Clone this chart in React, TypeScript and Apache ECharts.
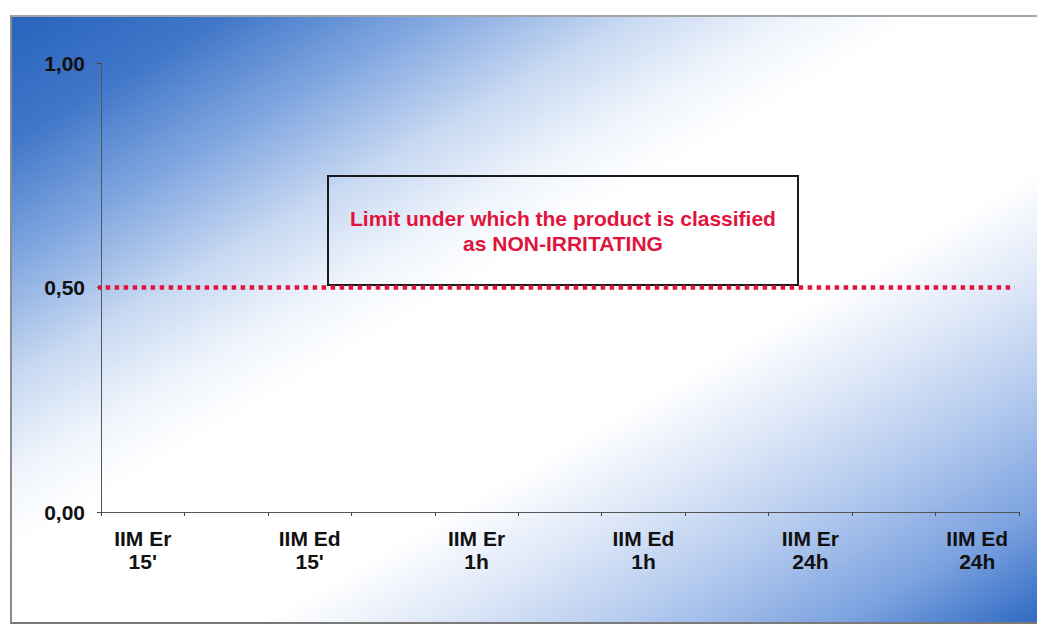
import React, { useEffect, useRef } from "react";
import * as echarts from "echarts";

const categories: string[] = [
  "IIM Er\n15'", "", "IIM Ed\n15'", "", "IIM Er\n1h", "", "IIM Ed\n1h", "", "IIM Er\n24h", "", "IIM Ed\n24h",
];
const scores: number[] = [0, 0, 0, 0, 0, 0, 0, 0, 0, 0, 0];
const yTicks: number[] = [0, 0.5, 1];
const limitValue = 0.5;
const limitSpan: number[] = [-0.16, 10.95];
const noteLines: string[] = ["Limit under which the product is classified", "as NON-IRRITATING"];

const FONT = "Arial, 'Liberation Sans', sans-serif";

export default function App() {
  const ref = useRef<HTMLDivElement>(null);

  useEffect(() => {
    if (!ref.current) return;
    const chart = echarts.init(ref.current, undefined, { renderer: "svg" });
    chart.setOption({
      animation: false,
      backgroundColor: "transparent",
      grid: { left: 101, right: 18, top: 63, bottom: 112, containLabel: false },
      xAxis: [
        {
          type: "category",
          data: categories,
          boundaryGap: true,
          axisLine: { lineStyle: { color: "#555", width: 1 } },
          axisTick: { show: true, length: 4, lineStyle: { color: "#444" } },
          axisLabel: {
            interval: 0,
            margin: 15,
            lineHeight: 23,
            fontSize: 21,
            fontWeight: "bold",
            fontFamily: FONT,
            color: "#111",
            align: "center",
          },
          splitLine: { show: false },
        },
        {
          type: "value",
          min: 0,
          max: categories.length,
          show: false,
        },
      ],
      yAxis: {
        type: "value",
        min: yTicks[0],
        max: yTicks[yTicks.length - 1],
        interval: yTicks[1] - yTicks[0],
        axisLine: { show: true, lineStyle: { color: "#555", width: 1 } },
        axisTick: { show: true, length: 4, lineStyle: { color: "#444" } },
        axisLabel: {
          margin: 16,
          fontSize: 21,
          fontWeight: "bold",
          fontFamily: FONT,
          color: "#111",
          formatter: (v: number) => v.toFixed(2).replace(".", ","),
        },
        splitLine: { show: false },
      },
      series: [
        {
          type: "bar",
          xAxisIndex: 0,
          data: scores,
          itemStyle: { color: "#2a66bf" },
        },
        {
          type: "line",
          xAxisIndex: 1,
          data: limitSpan.map((x) => [x, limitValue]),
          clip: false,
          symbol: "none",
          lineStyle: { color: "#e0143c", width: 4.5, type: [4.5, 4.5] },
          silent: true,
        },
      ],
      graphic: [
        {
          type: "rect",
          shape: { x: 328, y: 176, width: 470, height: 109 },
          style: { fill: "transparent", stroke: "#1a1a1a", lineWidth: 2 },
          silent: true,
        },
        {
          type: "text",
          x: 563,
          y: 231,
          style: {
            text: noteLines.join("\n"),
            fill: "#e0143c",
            font: `bold 21px ${FONT}`,
            lineHeight: 25,
            align: "center",
            verticalAlign: "middle",
          },
          silent: true,
        },
      ],
    });
    return () => chart.dispose();
  }, []);

  return (
    <div style={{ position: "fixed", left: 0, top: 0, width: 1037, height: 624, background: "#ffffff", overflow: "hidden" }}>
      <div
        style={{
          position: "absolute",
          left: 10,
          top: 15,
          width: 1040,
          height: 605,
          borderTop: "2px solid #a5a5a5",
          borderLeft: "2px solid #8c8c8c",
          borderBottom: "2px solid #7a7a7a",
          background:
            "linear-gradient(to bottom right, #2864bd 0%, #3f76c8 10%, #80a6e0 20%, #c8d9f2 30%, #f0f5fc 38%, #ffffff 44%, #ffffff 62%, #e0e9f8 70%, #b2c9ee 80%, #7ca2df 90%, #4a7ece 96%, #2a66bf 100%)",
        }}
      />
      <div ref={ref} style={{ position: "absolute", left: 0, top: 0, width: 1037, height: 624 }} />
    </div>
  );
}
